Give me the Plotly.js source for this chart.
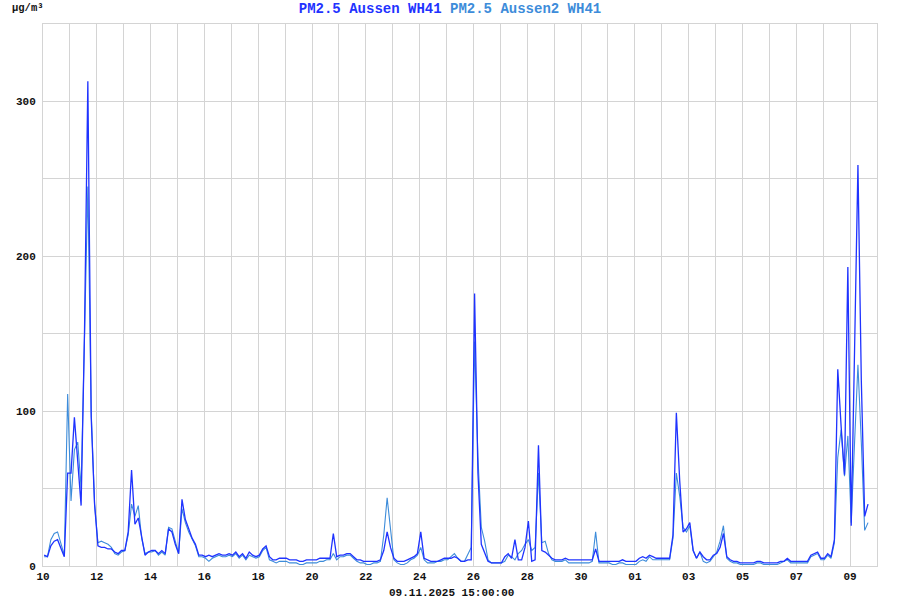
<!DOCTYPE html>
<html>
<head>
<meta charset="utf-8">
<script src="https://cdn.plot.ly/plotly-3.0.1.min.js"></script>
<style>html,body{margin:0;padding:0;background:#fff;}#chart{width:900px;height:600px;}</style>
</head>
<body>
<div id="chart"></div>
<script>
// 3-hourly samples starting 10.10.2025 01:00
const startTime = Date.UTC(2025, 9, 10, 1, 0);
const stepHours = 3;

const pmAussen = [
  7, 6, 13, 16, 17, 12, 6, 60,
  60, 96, 70, 39, 150, 313, 96, 40,
  13, 12, 12, 11, 11, 9, 8, 10,
  10, 22, 62, 27, 31, 18, 7, 9,
  10, 10, 8, 10, 8, 24, 22, 14,
  8, 43, 30, 24, 18, 14, 7, 7,
  6, 7, 6, 7, 8, 7, 7, 8,
  7, 9, 6, 8, 5, 9, 7, 6,
  7, 11, 13, 6, 4, 4, 5, 5,
  5, 4, 4, 4, 3, 3, 4, 4,
  4, 4, 5, 5, 5, 5, 21, 6,
  7, 7, 8, 8, 6, 4, 4, 3,
  3, 3, 3, 3, 4, 10, 22, 12,
  5, 3, 3, 3, 4, 5, 6, 8,
  22, 5, 4, 3, 3, 3, 4, 5,
  5, 5, 6, 5, 3, 3, 4, 4,
  176, 60, 14, 9, 3, 2, 2, 2,
  2, 6, 8, 5, 17, 4, 4, 12,
  29, 3, 4, 78, 10, 9, 7, 5,
  4, 4, 4, 5, 4, 4, 4, 4,
  4, 4, 4, 4, 11, 3, 3, 3,
  3, 3, 3, 3, 4, 3, 3, 3,
  3, 5, 6, 5, 7, 6, 5, 5,
  5, 5, 5, 20, 99, 55, 22, 24,
  28, 10, 5, 9, 6, 4, 4, 7,
  8, 12, 21, 6, 4, 3, 3, 2,
  2, 2, 2, 2, 3, 3, 2, 2,
  2, 2, 2, 3, 3, 5, 3, 3,
  3, 3, 3, 3, 7, 8, 9, 5,
  5, 8, 6, 17, 127, 90, 59, 193,
  26, 140, 259, 120, 32, 40
];

const pmAussen2 = [
  6, 6, 17, 21, 22, 14, 7, 111,
  42, 75, 80, 50, 150, 245, 100, 40,
  15, 16, 15, 14, 12, 8, 7, 9,
  10, 20, 40, 32, 39, 18, 8, 9,
  9, 10, 7, 9, 7, 25, 24, 15,
  8, 37, 28, 22, 17, 13, 6, 6,
  5, 3, 5, 6, 7, 6, 6, 7,
  6, 8, 5, 7, 4, 7, 6, 5,
  6, 10, 12, 4, 3, 2, 3, 3,
  3, 2, 2, 2, 1, 1, 2, 2,
  2, 2, 3, 3, 4, 4, 8, 4,
  6, 6, 7, 7, 5, 3, 2, 2,
  1, 1, 2, 2, 3, 20, 44, 24,
  4, 2, 1, 1, 2, 4, 5, 7,
  12, 4, 2, 2, 2, 3, 3, 4,
  4, 6, 8, 5, 3, 3, 8, 12,
  145, 70, 25, 16, 4, 2, 2, 2,
  2, 3, 7, 6, 4, 8, 10, 14,
  17, 10, 12, 60, 15, 16, 8, 4,
  3, 3, 3, 4, 2, 2, 2, 2,
  2, 2, 2, 3, 22, 2, 2, 2,
  2, 1, 1, 2, 2, 1, 1, 1,
  1, 3, 4, 3, 6, 4, 4, 4,
  4, 4, 4, 18, 60, 45, 25, 22,
  26, 10, 5, 9, 3, 2, 3, 6,
  9, 16, 26, 5, 3, 2, 2, 1,
  1, 1, 1, 1, 2, 2, 1, 1,
  1, 1, 1, 2, 3, 4, 2, 2,
  2, 2, 2, 2, 6, 7, 8, 4,
  4, 7, 5, 15, 70, 88, 58, 84,
  28, 80, 130, 80, 23, 28
];

const yTickVals = [0, 100, 200, 300];
const seriesNames = ["PM2.5 Aussen WH41", "PM2.5 Aussen2 WH41"];
const unitLabel = "µg/m³";
const stampLabel = "09.11.2025 15:00:00";

const times = pmAussen.map((_, i) =>
  new Date(startTime + i * stepHours * 3600000).toISOString().slice(0, 16).replace('T', ' '));

const colA = '#1f33ff';
const colB = '#3d8cda';
const mono = 'Liberation Mono, Courier New, monospace';
const grid = '#d4d4d4';

const traces = [
  {x: times, y: pmAussen2, type: 'scatter', mode: 'lines', name: seriesNames[1],
   line: {color: colB, width: 1.1}, hoverinfo: 'x+y'},
  {x: times, y: pmAussen, type: 'scatter', mode: 'lines', name: seriesNames[0],
   line: {color: colA, width: 1.3}, hoverinfo: 'x+y'}
];

const layout = {
  width: 900, height: 600,
  margin: {l: 43, r: 23, t: 24, b: 34},
  paper_bgcolor: '#ffffff', plot_bgcolor: '#ffffff',
  showlegend: false,
  title: {
    text: '<span style="color:' + colA + '">' + seriesNames[0] + '</span> <span style="color:' + colB + '">' + seriesNames[1] + '</span>',
    font: {family: mono, size: 14, weight: 'bold'},
    xref: 'container', x: 0.5, xanchor: 'center',
    yref: 'container', y: 0.986, yanchor: 'middle'
  },
  xaxis: {
    type: 'date',
    range: ['2025-10-10 00:00', '2025-11-10 00:00'],
    tick0: '2025-10-10', dtick: 2 * 86400000, tickformat: '%d',
    showgrid: true, gridcolor: grid, gridwidth: 1,
    minor: {dtick: 86400000, showgrid: true, gridcolor: grid, gridwidth: 1},
    showline: true, linecolor: grid, linewidth: 1, mirror: true,
    zeroline: false, ticks: '',
    tickfont: {family: mono, size: 11, color: '#111', weight: 'bold'}
  },
  yaxis: {
    range: [0, 350],
    tickvals: yTickVals, ticktext: yTickVals.map(String),
    showgrid: true, gridcolor: grid, gridwidth: 1,
    minor: {dtick: 50, tick0: 0, showgrid: true, gridcolor: grid, gridwidth: 1},
    showline: true, linecolor: grid, linewidth: 1, mirror: true,
    zeroline: false, ticks: '', ticklabelstandoff: 4,
    tickfont: {family: mono, size: 11, color: '#111', weight: 'bold'}
  },
  annotations: [
    {text: unitLabel, xref: 'paper', yref: 'paper',
     x: (10 - 43) / 834, y: (566 - 8) / 542, xanchor: 'left', yanchor: 'middle',
     showarrow: false, font: {family: mono, size: 10.5, color: '#111', weight: 'bold'}},
    {text: stampLabel, xref: 'paper', yref: 'paper',
     x: (451 - 43) / 834, y: (566 - 593) / 542, xanchor: 'center', yanchor: 'middle',
     showarrow: false, font: {family: mono, size: 11, color: '#111', weight: 'bold'}}
  ]
};

Plotly.newPlot('chart', traces, layout, {displayModeBar: false, staticPlot: true});
</script>
</body>
</html>
